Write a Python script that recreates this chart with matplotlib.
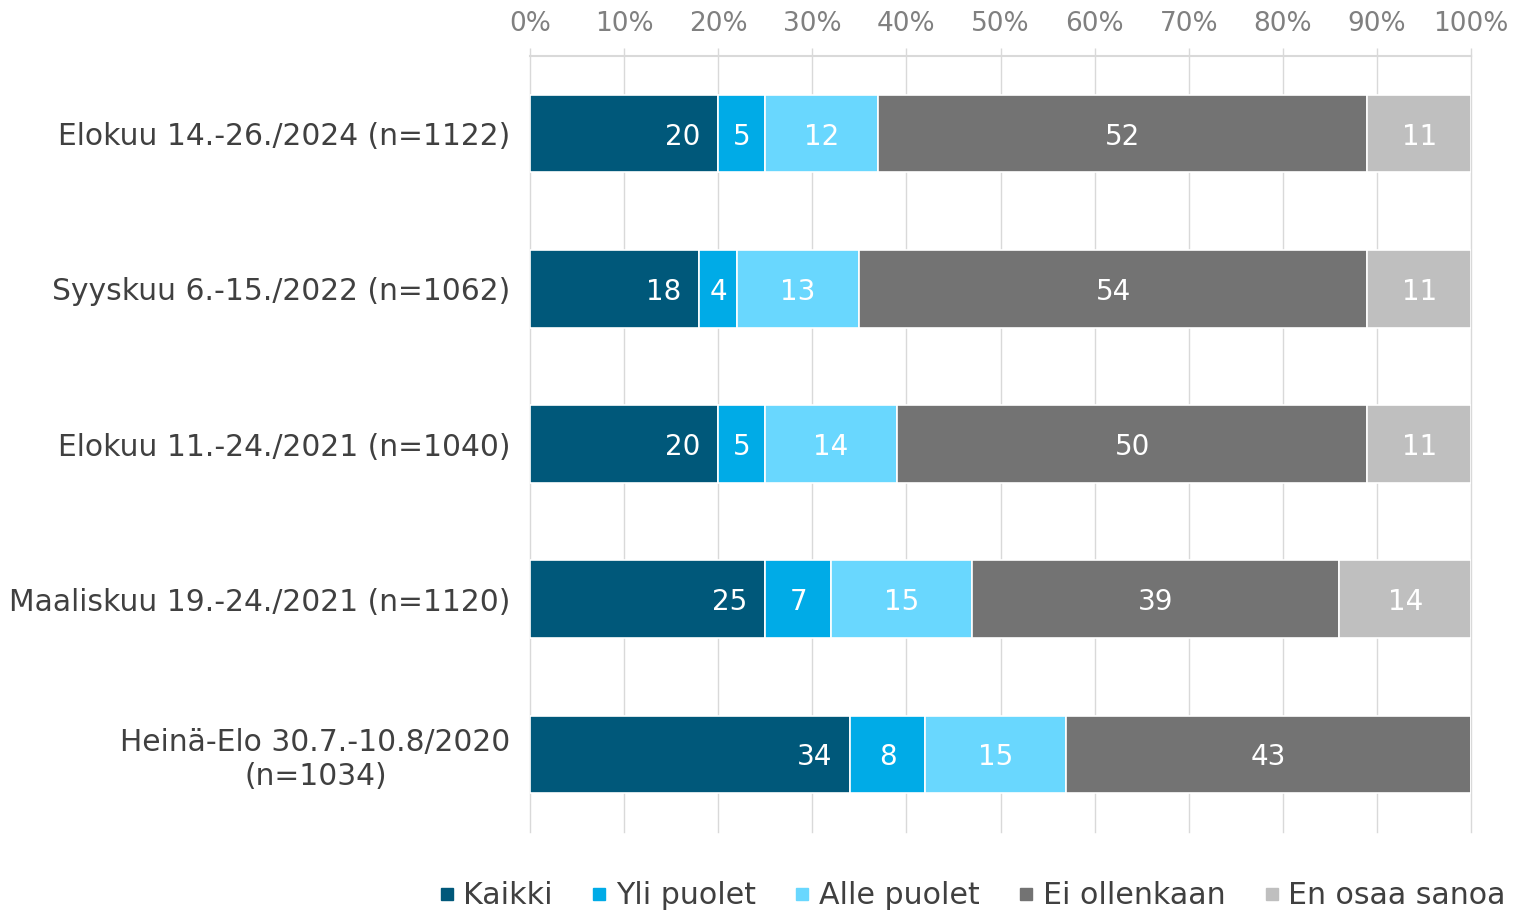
import matplotlib.pyplot as plt
from matplotlib.lines import Line2D

plt.rcParams['font.family'] = ['DejaVu Sans']

categories = ['Elokuu 14.-26./2024 (n=1122)',
              'Syyskuu 6.-15./2022 (n=1062)',
              'Elokuu 11.-24./2021 (n=1040)',
              'Maaliskuu 19.-24./2021 (n=1120)',
              'Heinä-Elo 30.7.-10.8/2020\n(n=1034)']
series = ['Kaikki', 'Yli puolet', 'Alle puolet', 'Ei ollenkaan', 'En osaa sanoa']
kaikki = [20, 18, 20, 25, 34]
yli_puolet = [5, 4, 5, 7, 8]
alle_puolet = [12, 13, 14, 15, 15]
ei_ollenkaan = [52, 54, 50, 39, 43]
en_osaa = [11, 11, 11, 14, 0]
colors = ['#00587A', '#00ABE7', '#69D7FE', '#737373', '#BFBFBF']

values = [kaikki, yli_puolet, alle_puolet, ei_ollenkaan, en_osaa]

fig = plt.figure(figsize=(15.14, 9.11), dpi=100)
ax = fig.add_axes([530 / 1514, 1 - 832 / 911, 941 / 1514, 776 / 911])

y = list(range(len(categories)))
left = [0] * len(categories)
for i, (name, vals) in enumerate(zip(series, values)):
    ax.barh(y, vals, left=left, height=0.5, color=colors[i],
            edgecolor='white', linewidth=1.2, label=name, zorder=3)
    for j, v in enumerate(vals):
        if v == 0:
            continue
        if i == 0:
            ax.text(left[j] + v - 1.9, j, str(v), ha='right', va='center_baseline',
                    color='white', fontsize=20, zorder=4)
        else:
            ax.text(left[j] + v / 2, j, str(v), ha='center', va='center_baseline',
                    color='white', fontsize=20, zorder=4)
    left = [a + b for a, b in zip(left, vals)]

ax.set_xlim(0, 100)
ax.set_ylim(4.5, -0.5)
ax.set_xticks(range(0, 101, 10))
ax.set_xticklabels([f'{t}%' for t in range(0, 101, 10)])
ax.xaxis.tick_top()
ax.tick_params(axis='x', colors='#D9D9D9', labelcolor='#808080', labelsize=19,
               length=6, width=1, pad=8)
ax.set_yticks(y)
ax.set_yticklabels(categories)
ax.tick_params(axis='y', length=0, labelsize=21.4, labelcolor='#404040', pad=14)
for lab in ax.get_yticklabels():
    lab.set_multialignment('center')

ax.grid(axis='x', color='#D9D9D9', linewidth=1, zorder=0)
for line in ax.get_xgridlines():
    line.set_clip_on(False)
for s in ['left', 'right', 'bottom']:
    ax.spines[s].set_visible(False)
ax.spines['top'].set_color('#D9D9D9')
ax.spines['top'].set_linewidth(1.5)

handles = [Line2D([], [], marker='s', linestyle='', color=c, markersize=9)
           for c in colors]
fig.legend(handles, series, loc='center', bbox_to_anchor=(971 / 1514, 1 - 896 / 911),
           ncol=5, frameon=False, fontsize=21.6, handletextpad=0.2,
           columnspacing=1.2, handlelength=0.7, labelcolor='#404040')

fig.savefig('out.png', dpi=100)
